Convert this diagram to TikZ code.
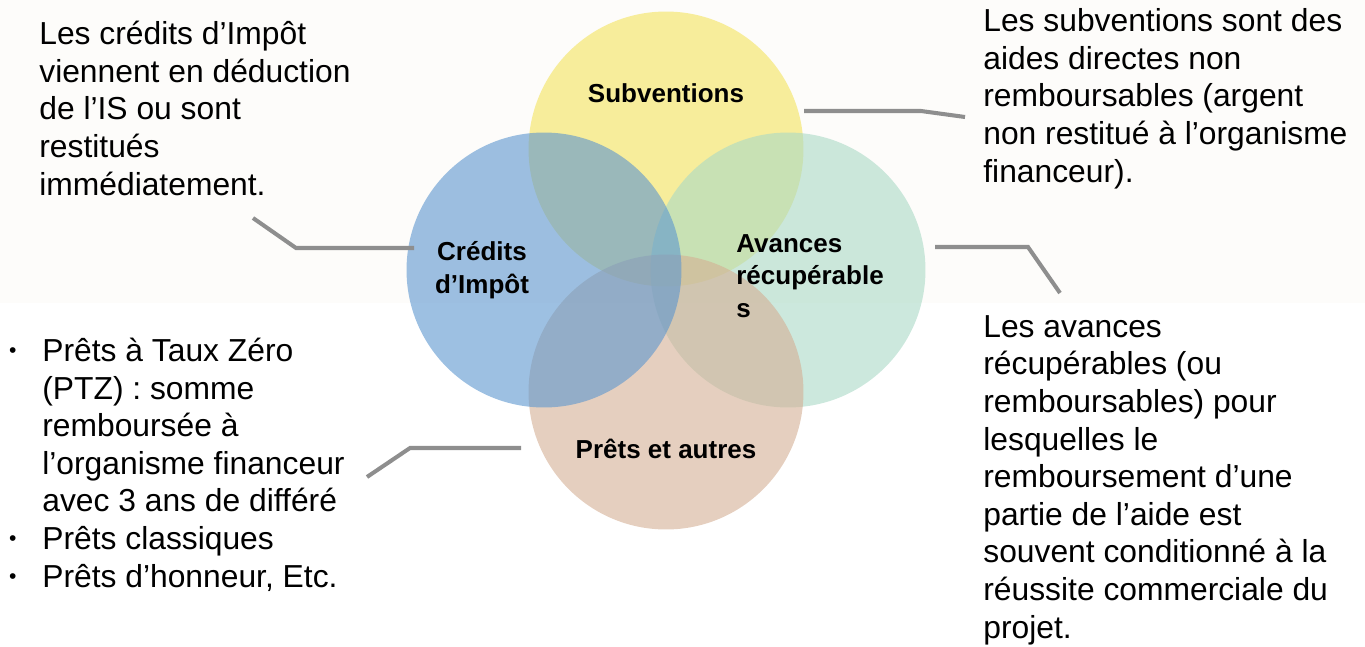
\documentclass[tikz,border=0pt]{standalone}
\usepackage{fontspec}
\setmainfont{Liberation Sans}
\usepackage{xcolor}
\usetikzlibrary{positioning,calc}

\definecolor{subvY}{RGB}{243,227,93}
\definecolor{avanG}{RGB}{170,217,198}
\definecolor{pretP}{RGB}{212,175,148}
\definecolor{credB}{RGB}{92,150,207}
\definecolor{leadGray}{RGB}{142,142,142}
\definecolor{bandW}{RGB}{253,252,250}

\newcommand{\bodyfont}{\fontsize{18.1}{21.4}\selectfont}
\newcommand{\lblfont}{\bfseries\fontsize{14.8}{18.4}\selectfont}
\newcommand{\blt}{\llap{\raisebox{2pt}{\fontsize{12}{12}\selectfont\textbullet}\hspace{14.7pt}}}

\begin{document}
\begin{tikzpicture}[
				x=0.02cm,y=-0.02cm,
				line cap=butt,line join=miter,
				bubble/.style={circle,inner sep=0pt,minimum size=5.5cm,fill opacity=0.6},
				lbl/.style={inner sep=0pt,font=\lblfont},
				body/.style={inner sep=0pt,font=\bodyfont,align=left,anchor=base west},
				lead/.style={leadGray,line width=2.3pt}
				]
				%----- frame + light band
				\useasboundingbox (0,0) rectangle (1365,646);
				\fill[bandW] (0,0) rectangle (1365,303);
				
				%----- circles (drawing order matters for overlaps)
				\node[bubble,fill=subvY] (subv) at (666,149) {};
				\node[bubble,fill=avanG] (avan) at (788,270) {};
				\node[bubble,fill=pretP] (pret) at (666,392) {};
				\node[bubble,fill=credB] (cred) at (544,270) {};
				
				%----- labels inside circles (base = last line)
				\node[lbl] (subvLbl) at (666,93) {Subventions};
				\node[lbl,align=center] (credLbl) at (482,270) {Crédits\\d’Impôt};
				\node[lbl,align=left,anchor=base west] (avanLbl) at (736,317) {Avances\\récupérable\\s};
				\node[lbl] (pretLbl) at (666,449) {Prêts et autres};
				
				%----- explanations (anchored on last baseline)
				\node[body] (credTxt) at (39,195) {Les crédits d’Impôt\\viennent en déduction\\de l’IS ou sont\\restitués\\immédiatement.};
				\node[body] (subvTxt) at (983,182) {Les subventions sont des\\aides directes non\\remboursables (argent\\non restitué à l’organisme\\financeur).};
				\node[body] (avanTxt) at (983,638) {Les avances\\récupérables (ou\\remboursables) pour\\lesquelles le\\remboursement d’une\\partie de l’aide est\\souvent conditionné à la\\réussite commerciale du\\projet.};
				\node[body] (pretTxt) at (42,587) {\blt Prêts à Taux Zéro\\(PTZ) : somme\\remboursée à\\l’organisme financeur\\avec 3 ans de différé\\\blt Prêts classiques\\\blt Prêts d’honneur, Etc.};
				
				%----- leader lines
				\coordinate (credA) at (253,218);
				\coordinate (credB) at (296,248);
				\coordinate (credC) at (414,248);
				\draw[lead] (credA) -- (credB) -- (credC);
				
				\coordinate (subvA) at (804,111);
				\coordinate (subvB) at (921,111);
				\coordinate (subvC) at (965,117);
				\draw[lead] (subvA) -- (subvB) -- (subvC);
				
				\coordinate (avanA) at (935,247);
				\coordinate (avanB) at (1028,247);
				\coordinate (avanC) at (1060,293);
				\draw[lead] (avanA) -- (avanB) -- (avanC);
				
				\coordinate (pretA) at (367,477);
				\coordinate (pretB) at (410,448);
				\coordinate (pretC) at (521,448);
				\draw[lead] (pretA) -- (pretB) -- (pretC);
				
			\end{tikzpicture}
\end{document}
